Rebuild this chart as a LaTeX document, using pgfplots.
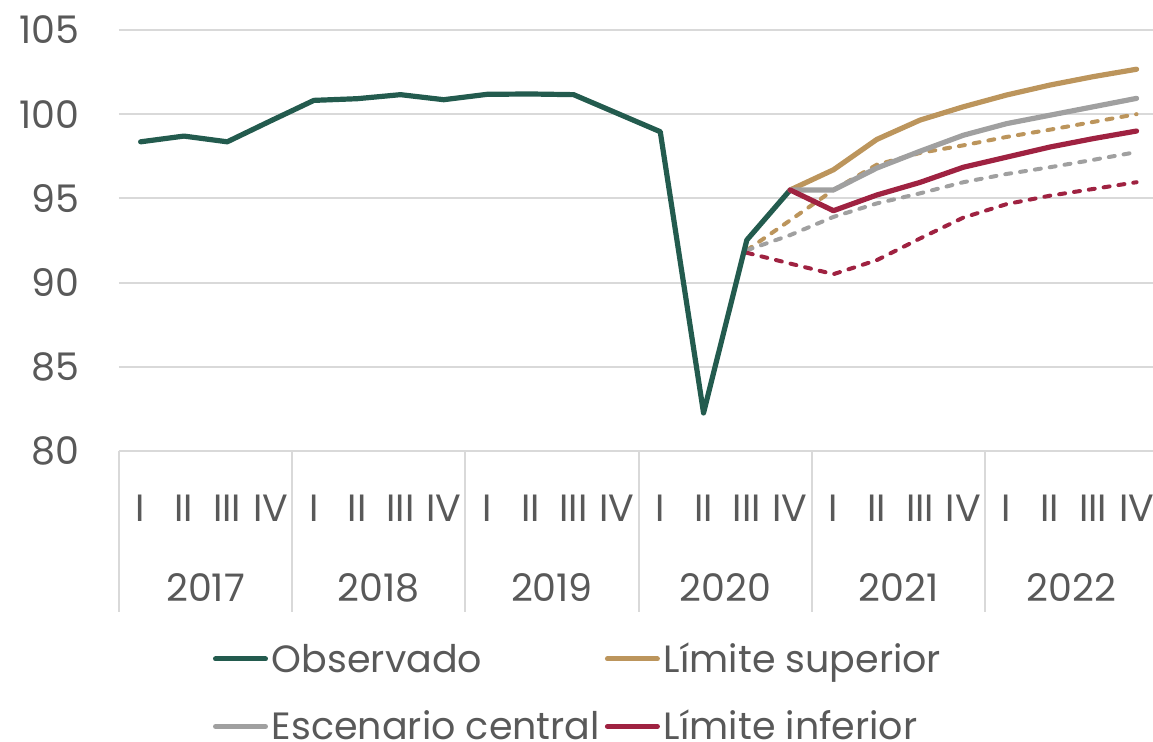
\documentclass[border=0pt]{standalone}
\usepackage{fontspec}
\setmainfont{Poppins}
\usepackage{pgfplots}
\pgfplotsset{compat=1.18}
\definecolor{cgreen}{HTML}{235B4E}
\definecolor{cgold}{HTML}{BC955C}
\definecolor{cred}{HTML}{9F2241}
\definecolor{cgray}{HTML}{A0A0A0}
\definecolor{cgrid}{HTML}{D9D9D9}
\definecolor{ctext}{HTML}{595959}
\begin{document}
\begin{tikzpicture}[font=\fontsize{19}{22}\selectfont]
\begin{axis}[
  width=517pt, height=210.5pt, scale only axis,
  xmin=-0.5, xmax=23.38, ymin=80, ymax=105,
  ytick={80,85,90,95,100,105},
  xtick={0,...,23},
  xticklabels={I,II,III,IV,I,II,III,IV,I,II,III,IV,I,II,III,IV,I,II,III,IV,I,II,III,IV},
  ymajorgrids, grid style={cgrid, line width=1pt},
  axis line style={draw=none},
  major tick length=0pt, tick style={draw=none},
  /pgf/number format/assume math mode=true,
  ticklabel style={font=\fontsize{19}{22}\selectfont, text=ctext},
  xticklabel style={anchor=center, yshift=-28.5pt},
  yticklabel style={anchor=east, inner xsep=0pt, xshift=-19.5pt},
  clip=false,
  legend columns=2,
  legend cell align=left,
  legend style={at={(0,0)}, anchor=north west, xshift=47pt, yshift=-97.25pt,
    draw=none, fill=none, inner sep=0pt, outer sep=0pt, row sep=20.25pt,
    font=\fontsize{19}{22}\selectfont, text=ctext,
    nodes={inner xsep=0pt, inner ysep=0pt, text height=13.5pt, text depth=0pt},
    /tikz/every odd column/.append style={column sep=2pt},
    /tikz/every even column/.append style={column sep=2.5pt}},
  legend image code/.code={\draw[#1, line width=2.5pt, line cap=round] (1.25pt,0pt) -- (26.25pt,0pt);},
]
% dashed scenarios
\addplot[forget plot, cgold, line width=2pt, line cap=round, dash pattern=on 3pt off 4.5pt] coordinates {
 (14,91.92) (15,93.7) (16,95.5) (17,97.0) (18,97.7) (19,98.15) (20,98.65) (21,99.08) (22,99.54) (23,100.0)};
\addplot[forget plot, cgray, line width=2pt, line cap=round, dash pattern=on 3pt off 4.5pt] coordinates {
 (14,91.92) (15,92.82) (16,93.9) (17,94.7) (18,95.3) (19,95.96) (20,96.45) (21,96.85) (22,97.29) (23,97.75)};
\addplot[forget plot, cred, line width=2pt, line cap=round, dash pattern=on 3pt off 4.5pt] coordinates {
 (14,91.77) (15,91.13) (16,90.5) (17,91.33) (18,92.62) (19,93.86) (20,94.66) (21,95.16) (22,95.56) (23,95.96)};
% observed
\addplot[cgreen, line width=2.6pt, line cap=round, line join=round] coordinates {
 (0,98.36) (1,98.7) (2,98.36) (3,99.6) (4,100.82) (5,100.92) (6,101.16) (7,100.86)
 (8,101.18) (9,101.2) (10,101.16) (11,100.06) (12,98.96) (13,82.26) (14,92.53) (15,95.5)};
\addlegendentry{Observado}
\addplot[cgold, line width=2.6pt, line cap=round, line join=round] coordinates {
 (15,95.5) (16,96.7) (17,98.5) (18,99.65) (19,100.44) (20,101.14) (21,101.73) (22,102.23) (23,102.67)};
\addlegendentry{Límite superior}
\addplot[cgray, line width=2.6pt, line cap=round, line join=round] coordinates {
 (15,95.5) (16,95.5) (17,96.8) (18,97.8) (19,98.75) (20,99.44) (21,99.94) (22,100.44) (23,100.94)};
\addlegendentry{Escenario central}
\addplot[cred, line width=2.6pt, line cap=round, line join=round] coordinates {
 (15,95.5) (16,94.27) (17,95.2) (18,95.95) (19,96.85) (20,97.45) (21,98.05) (22,98.55) (23,99.0)};
\addlegendentry{Límite inferior}
% year separators
\draw[cgrid, line width=1pt] (axis cs:-0.5,80) -- ++(0pt,-80.5pt);
\draw[cgrid, line width=1pt] (axis cs:3.5,80) -- ++(0pt,-80.5pt);
\draw[cgrid, line width=1pt] (axis cs:7.5,80) -- ++(0pt,-80.5pt);
\draw[cgrid, line width=1pt] (axis cs:11.5,80) -- ++(0pt,-80.5pt);
\draw[cgrid, line width=1pt] (axis cs:15.5,80) -- ++(0pt,-80.5pt);
\draw[cgrid, line width=1pt] (axis cs:19.5,80) -- ++(0pt,-80.5pt);
% year labels
\node[text=ctext, anchor=center, yshift=-68.5pt] at (axis cs:1.5,80) {2017};
\node[text=ctext, anchor=center, yshift=-68.5pt] at (axis cs:5.5,80) {2018};
\node[text=ctext, anchor=center, yshift=-68.5pt] at (axis cs:9.5,80) {2019};
\node[text=ctext, anchor=center, yshift=-68.5pt] at (axis cs:13.5,80) {2020};
\node[text=ctext, anchor=center, yshift=-68.5pt] at (axis cs:17.5,80) {2021};
\node[text=ctext, anchor=center, yshift=-68.5pt] at (axis cs:21.5,80) {2022};
\coordinate (bbA) at (rel axis cs:0,1);
\coordinate (bbB) at (rel axis cs:1,0);
\end{axis}
\pgfresetboundingbox
\path ([xshift=-59.5pt,yshift=15pt]bbA) rectangle ([yshift=-145.5pt]bbB);
\end{tikzpicture}
\end{document}
